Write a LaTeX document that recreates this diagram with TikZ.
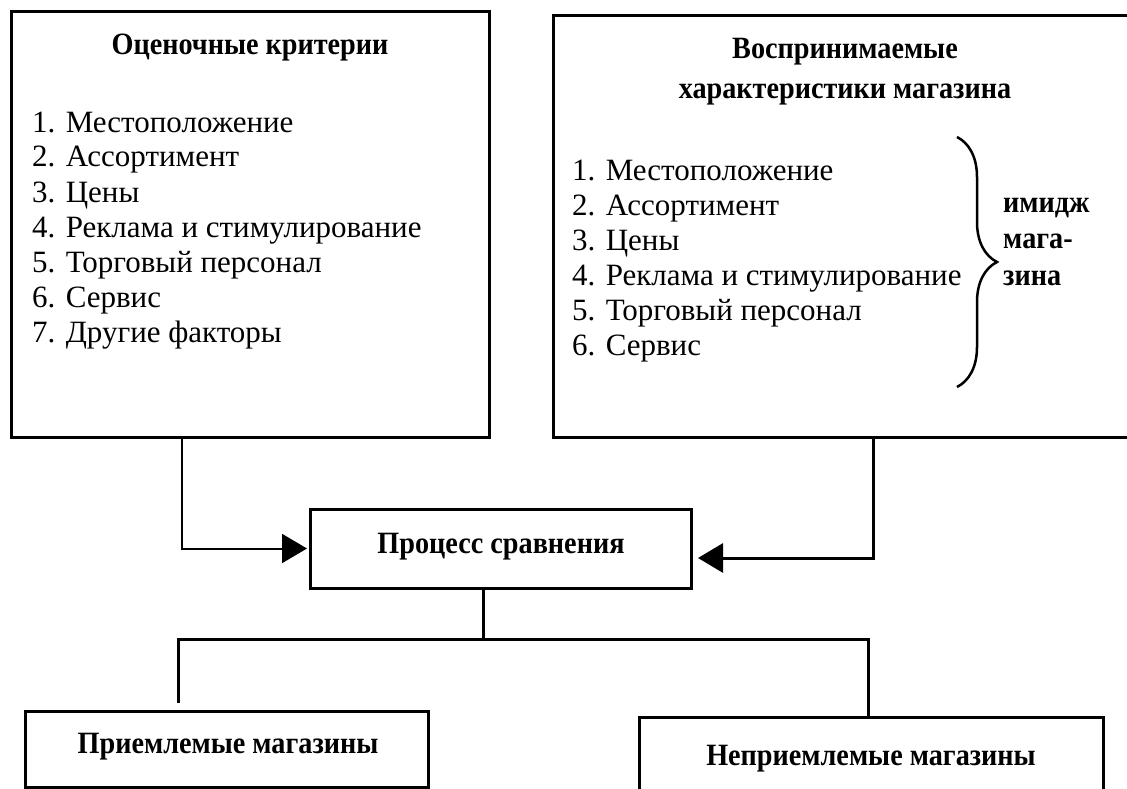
\documentclass[tikz,border=0pt]{standalone}
\usepackage{fontspec}
\setmainfont{Liberation Serif}
\newfontfamily\headfont[FakeStretch=0.91]{Liberation Serif}
\usetikzlibrary{arrows.meta,decorations.pathreplacing}

\begin{document}
\begin{tikzpicture}[x=1pt,y=-1pt,inner sep=0,font=\fontsize{31}{35}\selectfont,
  box/.style={draw,line width=3pt,outer sep=0,shape=rectangle},
  item/.style={anchor=base west},
  head/.style={anchor=base,font=\fontsize{31}{35}\headfont\bfseries},
  link/.style={line width=3pt},
  arr/.style={-{Triangle[length=25pt,width=29pt]}}]
\clip (0,0) rectangle (1127,789); %page

%boxes
\node[box,minimum width=478pt,minimum height=425pt] (crit) at (250,224.5) {}; %left box
\node[box,minimum width=587pt,minimum height=421pt] (percv) at (846.5,226.5) {}; %right box, runs off the page
\node[box,minimum width=381pt,minimum height=79pt] (proc) at (500.5,548.5) {}; %comparison box
\node[box,minimum width=403pt,minimum height=76pt] (accpt) at (226.5,749) {}; %acceptable stores
\node[box,minimum width=464pt,minimum height=103pt] (reject) at (871,768.5) {}; %unacceptable stores

%left box text
\node[head] (crittitle) at (250,55) {Оценочные критерии}; %title
\node[item] (crit1) at (32,132) {1. Местоположение};
\node[item] (crit2) at (32,167) {2. Ассортимент};
\node[item] (crit3) at (32,202) {3. Цены};
\node[item] (crit4) at (32,237) {4. Реклама и стимулирование};
\node[item] (crit5) at (32,272) {5. Торговый персонал};
\node[item] (crit6) at (32,307) {6. Сервис};
\node[item] (crit7) at (32,342) {7. Другие факторы};

%right box text
\node[head] (percvtitle) at (845,59) {Воспринимаемые}; %title, first line
\node[head] (percvtitleb) at (845,99) {характеристики магазина}; %title, second line
\node[item] (percv1) at (572,180) {1. Местоположение};
\node[item] (percv2) at (572,215) {2. Ассортимент};
\node[item] (percv3) at (572,250) {3. Цены};
\node[item] (percv4) at (572,285) {4. Реклама и стимулирование};
\node[item] (percv5) at (572,320) {5. Торговый персонал};
\node[item] (percv6) at (572,355) {6. Сервис};

%brace and its label
\draw[line width=2.5pt,decorate,decoration={brace,amplitude=40pt}] (957,137)--(957,387); %brace
\node[head,anchor=base west] (image1) at (1003,212) {имидж};
\node[head,anchor=base west] (image2) at (1003,248) {мага-};
\node[head,anchor=base west] (image3) at (1003,285) {зина};

%box labels
\node[head] (proctxt) at (501,553) {Процесс сравнения};
\node[head] (accpttxt) at (228,753) {Приемлемые магазины};
\node[head] (rejecttxt) at (871,765) {Неприемлемые магазины};

%connectors
\draw[arr,line width=2pt,shorten >=3pt] ([xshift=171pt]crit.south west) |- (proc.west); %left arrow
\draw[arr,link,shorten >=7pt] ([xshift=320pt]percv.south west) |- ([yshift=-9.5pt]proc.east); %right arrow
\draw[link] ([xshift=-17.5pt]proc.south) -- ++(0,51); %stem
\draw[link] ([xshift=153pt,yshift=8pt]accpt.north west) |- ([xshift=229pt,yshift=78pt]reject.north west)
  -- ([xshift=229pt]reject.north west); %fork
\end{tikzpicture}
\end{document}
